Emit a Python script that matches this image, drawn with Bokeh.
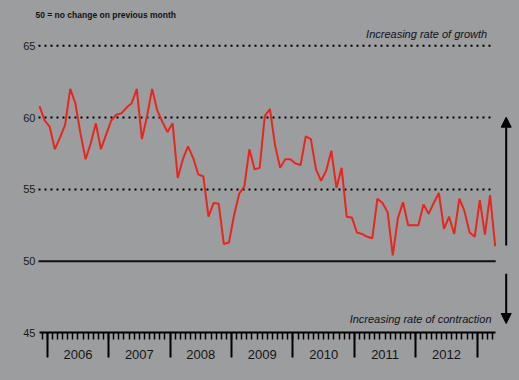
from bokeh.plotting import figure
from bokeh.models import (Range1d, LinearAxis, FixedTicker, Label, Arrow, NormalHead,
                          ColumnDataSource)
from bokeh.embed import file_html
from bokeh.resources import INLINE

# ---- data (monthly index, Nov 2005 .. Apr 2013) ----
start_year, start_month = 2005, 11
pmi = [60.8, 59.8, 59.35, 57.8, 58.6, 59.5, 62.0, 61.0, 58.9, 57.1,
       58.2, 59.6, 57.8, 58.8, 59.8, 60.2, 60.3, 60.7, 61.0, 62.0,
       58.5, 60.1, 62.0, 60.5, 59.7, 59.0, 59.6, 55.8, 57.1, 58.0,
       57.2, 56.05, 55.9, 53.1, 54.05, 54.0, 51.2, 51.3, 53.2, 54.7,
       55.2, 57.8, 56.4, 56.5, 60.1, 60.6, 58.1, 56.5, 57.1, 57.1,
       56.8, 56.7, 58.7, 58.5, 56.4, 55.6, 56.3, 57.7, 55.1, 56.5,
       53.1, 53.05, 52.0, 51.9, 51.7, 51.6, 54.35, 54.05, 53.4, 50.4,
       53.0, 54.1, 52.5, 52.5, 52.5, 53.95, 53.3, 54.05, 54.75, 52.25,
       53.1, 51.9, 54.35, 53.5, 52.0, 51.7, 54.25, 51.85, 54.6, 51.05]
years = [2006, 2007, 2008, 2009, 2010, 2011, 2012]
y_ticks = [45, 50, 55, 60, 65]
dotted_levels = [55, 60, 65]
neutral_level = [50]

# month positions: months since Jan 2006, plotted mid-month
xs = []
for i in range(len(pmi)):
    m = (start_month - 1) + i
    yr = start_year + m // 12
    mo = m % 12
    xs.append((yr - 2006) * 12 + mo + 0.5)

BG = "#9c9d9f"
FONT = "Liberation Sans"

p = figure(width=519, height=380, output_backend="svg", toolbar_location=None,
           x_axis_type=None, y_axis_type=None,
           x_range=Range1d(-9.12, 92.25), y_range=Range1d(41.692, 68.155),
           min_border_left=0, min_border_right=0, min_border_top=0, min_border_bottom=0,
           background_fill_color=BG, border_fill_color=BG, outline_line_color=None)

# reference lines
p.segment(x0=-1.7, x1=86.6, y0=dotted_levels, y1=dotted_levels, line_color="black",
          line_width=2, line_dash="2 4")
p.segment(x0=-1.7, x1=87.6, y0=neutral_level, y1=neutral_level, line_color="#111111",
          line_width=2)

# x axis: ticks
year_bounds = [(y - 2006) * 12 for y in years] + [(years[-1] + 1 - 2006) * 12]
ax_ticks = LinearAxis(ticker=FixedTicker(ticks=year_bounds, minor_ticks=list(range(-1, 88))),
                      fixed_location=45, bounds=(-1.5, 87.5),
                      axis_line_color="black", axis_line_width=2,
                      major_tick_line_color="black", major_tick_line_width=2,
                      major_tick_out=25, major_tick_in=0,
                      minor_tick_line_color="black", minor_tick_line_width=1.5,
                      minor_tick_out=7, minor_tick_in=0,
                      major_label_overrides={t: "" for t in year_bounds},
                      major_label_text_font_size="0px")
p.add_layout(ax_ticks, "below")

# x axis: year labels centred between year boundaries
mid = [(y - 2006) * 12 + 6 for y in years]
ax_lab = LinearAxis(ticker=FixedTicker(ticks=mid, minor_ticks=[]), fixed_location=45,
                    axis_line_color=None, major_tick_line_color=None, minor_tick_line_color=None,
                    major_tick_out=0, major_tick_in=0,
                    major_label_overrides={m: str(y) for m, y in zip(mid, years)},
                    major_label_standoff=17,
                    major_label_text_font=FONT, major_label_text_font_size="13px",
                    major_label_text_color="#151515")
p.add_layout(ax_lab, "below")

# y axis labels
ay = LinearAxis(ticker=FixedTicker(ticks=y_ticks, minor_ticks=[]), fixed_location=-2.09,
                axis_line_color=None, major_tick_line_color=None, minor_tick_line_color=None,
                major_tick_out=0, major_tick_in=0, major_label_standoff=1,
                major_label_text_font=FONT, major_label_text_font_size="11px",
                major_label_text_color="#1a1a1a")
p.add_layout(ay, "left")

# series
src = ColumnDataSource(dict(x=xs, y=pmi))
p.line("x", "y", source=src, line_color="#e8261f", line_width=2)

# annotations
p.add_layout(Label(x=-2.29, y=66.83, text="50 = no change on previous month",
                   text_font=FONT, text_font_size="8.5px", text_font_style="bold",
                   text_color="#111111"))
p.add_layout(Label(x=85.93, y=65.42, text="Increasing rate of growth", text_align="right",
                   text_font=FONT, text_font_size="11px", text_font_style="italic",
                   text_color="#111122"))
p.add_layout(Label(x=86.78, y=45.57, text="Increasing rate of contraction", text_align="right",
                   text_font=FONT, text_font_size="11px", text_font_style="italic",
                   text_color="#111122"))

p.add_layout(Arrow(end=NormalHead(size=10, fill_color="black", line_color="black"),
                   x_start=89.65, y_start=51.09, x_end=89.65, y_end=60.03,
                   line_color="black", line_width=2))
p.add_layout(Arrow(end=NormalHead(size=10, fill_color="black", line_color="black"),
                   x_start=89.65, y_start=49.12, x_end=89.65, y_end=45.66,
                   line_color="black", line_width=2))

TEMPLATE = "{% block preamble %}<style>html, body { background: " + BG + "; }</style>{% endblock %}"
open("out.html", "w").write(file_html(p, INLINE, template=TEMPLATE))
